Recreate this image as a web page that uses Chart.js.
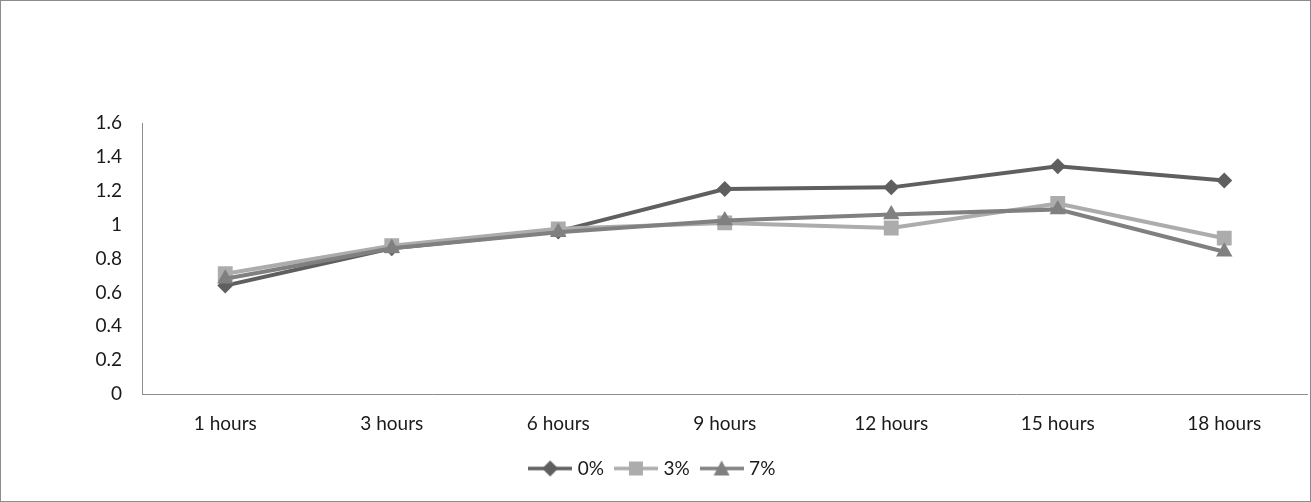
<!DOCTYPE html>
<html>
<head>
<meta charset="utf-8">
<script src="https://cdn.jsdelivr.net/npm/chart.js@4.4.1/dist/chart.umd.min.js"></script>
<style>
  html, body { margin: 0; padding: 0; background: #fff; }
  #wrap { width: 1311px; height: 502px; }
</style>
</head>
<body>
<div id="wrap"><canvas id="myChart" width="1311" height="502"></canvas></div>
<script>
const categories = ['1 hours', '3 hours', '6 hours', '9 hours', '12 hours', '15 hours', '18 hours'];
const seriesNames = ['0%', '3%', '7%'];
const values0 = [0.64, 0.86, 0.96, 1.21, 1.22, 1.345, 1.26];
const values3 = [0.71, 0.875, 0.975, 1.01, 0.98, 1.125, 0.92];
const values7 = [0.68, 0.86, 0.955, 1.025, 1.06, 1.09, 0.84];
const yTicks = [0, 0.2, 0.4, 0.6, 0.8, 1, 1.2, 1.4, 1.6];

const colors = ['#5f5f5f', '#acacac', '#808080'];
const styles = ['rectRot', 'rect', 'triangle'];
const radii = [8, 10.5, 9.5];

// little line+marker picture for the legend
function legendIcon(color, style) {
  const c = document.createElement('canvas');
  c.width = 44; c.height = 18;
  const g = c.getContext('2d');
  g.strokeStyle = color;
  g.lineWidth = 3.5;
  g.beginPath(); g.moveTo(0, 9); g.lineTo(44, 9); g.stroke();
  g.fillStyle = color;
  g.beginPath();
  if (style === 'rectRot') {
    g.moveTo(22, 1); g.lineTo(30, 9); g.lineTo(22, 17); g.lineTo(14, 9);
  } else if (style === 'rect') {
    g.rect(15, 2, 14, 14);
  } else {
    g.moveTo(22, 1); g.lineTo(30, 16); g.lineTo(14, 16);
  }
  g.closePath(); g.fill();
  return c;
}

const frame = {
  id: 'frame',
  afterDraw(chart) {
    const g = chart.ctx;
    g.save();
    g.strokeStyle = '#8c8c8c';
    g.lineWidth = 1;
    g.strokeRect(0.5, 0.5, chart.width - 1, chart.height - 1);
    g.restore();
  }
};

const allValues = [values0, values3, values7];

const ctx = document.getElementById('myChart').getContext('2d');
const myChart = new Chart(ctx, {
  type: 'line',
  data: {
    labels: categories,
    datasets: seriesNames.map((name, i) => ({
      label: name,
      data: allValues[i],
      borderColor: colors[i],
      backgroundColor: colors[i],
      borderWidth: 4,
      pointStyle: styles[i],
      pointRadius: radii[i],
      pointHoverRadius: radii[i],
      pointBorderWidth: 0,
      tension: 0,
      order: i === 0 ? 3 : (i === 1 ? 2 : 1)
    }))
  },
  options: {
    responsive: false,
    animation: false,
    layout: {
      autoPadding: false,
      padding: { top: 123, left: 0, right: 3.5, bottom: 14 }
    },
    scales: {
      x: {
        offset: true,
        grid: { display: false, drawTicks: false },
        border: { display: true, color: '#8c8c8c', width: 1 },
        ticks: {
          color: '#1a1a1a',
          padding: 18,
          font: { family: 'Lato', size: 19 },
          maxRotation: 0
        },
        afterFit(s) {
          s.height = 51;
          s.paddingLeft = 0;
          s.paddingRight = 0;
        }
      },
      y: {
        min: 0,
        max: 1.6,
        afterBuildTicks(s) { s.ticks = yTicks.map(v => ({ value: v })); },
        grid: { display: false, drawTicks: false },
        border: { display: true, color: '#8c8c8c', width: 1 },
        ticks: {
          color: '#1a1a1a',
          padding: 20,
          font: { family: 'Lato', size: 19 },
          callback: v => String(v)
        },
        afterFit(s) { s.width = 142; }
      }
    },
    plugins: {
      legend: {
        display: true,
        position: 'bottom',
        labels: {
          usePointStyle: true,
          pointStyleWidth: 36,
          padding: 14,
          color: '#1a1a1a',
          font: { family: 'Lato', size: 19 },
          generateLabels(chart) {
            return chart.data.datasets.map((d, i) => ({
              text: d.label,
              pointStyle: legendIcon(colors[i], styles[i]),
              fillStyle: colors[i],
              strokeStyle: colors[i],
              lineWidth: 0,
              datasetIndex: i,
              fontColor: '#1a1a1a'
            }));
          }
        }
      },
      tooltip: { enabled: false }
    }
  },
  plugins: [frame]
});
</script>
</body>
</html>
